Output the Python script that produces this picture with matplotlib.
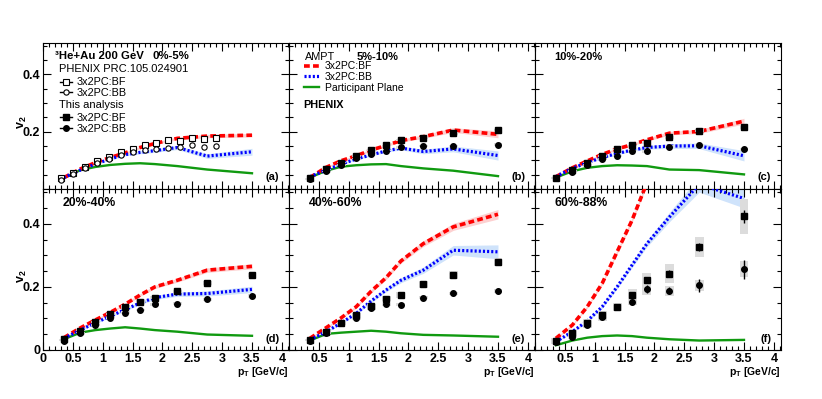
# v2 vs pT in 3He+Au, six centrality panels (AMPT vs PHENIX)
import numpy as np
import matplotlib
matplotlib.use("Agg")
import matplotlib.pyplot as plt
from matplotlib.lines import Line2D
from matplotlib.ticker import MultipleLocator, FuncFormatter

plt.rcParams['font.family'] = ['Liberation Sans', 'DejaVu Sans']
plt.rcParams['mathtext.fontset'] = 'custom'
plt.rcParams['mathtext.rm'] = 'Liberation Sans'
plt.rcParams['mathtext.bf'] = 'Liberation Sans:bold'
plt.rcParams['mathtext.it'] = 'Liberation Sans:italic'

# pT bins used for this analysis and the AMPT curves
pt = [0.35, 0.625, 0.875, 1.125, 1.375, 1.625, 1.875, 2.25, 2.75, 3.5]

# published PHENIX points (panel a only)
pt_phx = [0.3, 0.5, 0.7, 0.9, 1.1, 1.3, 1.5, 1.7, 1.9, 2.1, 2.3, 2.5, 2.7, 2.9]
phx_bf = [0.037, 0.057, 0.078, 0.099, 0.113, 0.129, 0.138, 0.155, 0.161, 0.171, 0.166, 0.179, 0.176, 0.179]
phx_bb = [0.033, 0.053, 0.074, 0.091, 0.106, 0.118, 0.129, 0.137, 0.140, 0.143, 0.146, 0.152, 0.146, 0.149]

centrality = ["0%-5%", "5%-10%", "10%-20%", "20%-40%", "40%-60%", "60%-88%"]
tags = ["(a)", "(b)", "(c)", "(d)", "(e)", "(f)"]

# AMPT 3x2PC:BF (red), 3x2PC:BB (blue), participant plane (green)
ampt_bf = [
    [0.040, 0.070, 0.092, 0.110, 0.126, 0.145, 0.159, 0.177, 0.185, 0.188],
    [0.040, 0.076, 0.099, 0.116, 0.136, 0.152, 0.169, 0.183, 0.206, 0.191],
    [0.043, 0.074, 0.098, 0.121, 0.140, 0.155, 0.172, 0.195, 0.201, 0.237],
    [0.039, 0.070, 0.095, 0.119, 0.145, 0.174, 0.200, 0.221, 0.253, 0.265],
    [0.037, 0.071, 0.102, 0.137, 0.186, 0.229, 0.282, 0.337, 0.390, 0.430],
    [0.037, 0.079, 0.137, 0.211, 0.311, 0.411, 0.530, 0.680, 0.850, 0.950],
]
ampt_bf_err = [
    [0.002, 0.002, 0.002, 0.003, 0.003, 0.004, 0.004, 0.005, 0.006, 0.006],
    [0.002, 0.002, 0.003, 0.003, 0.004, 0.004, 0.005, 0.006, 0.008, 0.012],
    [0.002, 0.002, 0.003, 0.003, 0.004, 0.004, 0.005, 0.006, 0.007, 0.010],
    [0.002, 0.002, 0.003, 0.003, 0.004, 0.004, 0.005, 0.006, 0.007, 0.008],
    [0.002, 0.003, 0.003, 0.004, 0.005, 0.006, 0.007, 0.009, 0.011, 0.015],
    [0.002, 0.003, 0.004, 0.005, 0.006, 0.007, 0.008, 0.009, 0.010, 0.010],
]
ampt_bb = [
    [0.040, 0.066, 0.087, 0.105, 0.120, 0.128, 0.134, 0.145, 0.115, 0.130],
    [0.043, 0.066, 0.087, 0.105, 0.119, 0.133, 0.143, 0.131, 0.140, 0.117],
    [0.043, 0.072, 0.092, 0.110, 0.124, 0.136, 0.145, 0.150, 0.151, 0.116],
    [0.037, 0.063, 0.086, 0.107, 0.128, 0.149, 0.166, 0.177, 0.179, 0.192],
    [0.032, 0.058, 0.086, 0.116, 0.155, 0.190, 0.221, 0.253, 0.316, 0.311],
    [0.026, 0.058, 0.092, 0.137, 0.200, 0.269, 0.337, 0.421, 0.525, 0.480],
]
ampt_bb_err = [
    [0.002, 0.002, 0.003, 0.003, 0.004, 0.005, 0.006, 0.007, 0.008, 0.012],
    [0.002, 0.002, 0.003, 0.003, 0.004, 0.005, 0.006, 0.008, 0.010, 0.016],
    [0.002, 0.002, 0.003, 0.003, 0.004, 0.005, 0.006, 0.008, 0.010, 0.018],
    [0.002, 0.002, 0.003, 0.003, 0.004, 0.005, 0.006, 0.007, 0.008, 0.010],
    [0.002, 0.003, 0.003, 0.004, 0.005, 0.006, 0.008, 0.010, 0.015, 0.022],
    [0.002, 0.003, 0.004, 0.005, 0.006, 0.008, 0.010, 0.015, 0.025, 0.030],
]
ampt_pp = [
    [0.038, 0.066, 0.077, 0.084, 0.088, 0.090, 0.087, 0.080, 0.068, 0.055],
    [0.040, 0.064, 0.078, 0.083, 0.086, 0.087, 0.080, 0.072, 0.064, 0.045],
    [0.040, 0.062, 0.074, 0.080, 0.083, 0.082, 0.080, 0.068, 0.066, 0.051],
    [0.034, 0.055, 0.063, 0.068, 0.072, 0.068, 0.063, 0.058, 0.049, 0.045],
    [0.030, 0.051, 0.055, 0.058, 0.061, 0.058, 0.053, 0.048, 0.046, 0.042],
    [0.015, 0.030, 0.039, 0.044, 0.046, 0.044, 0.039, 0.034, 0.030, 0.032],
]

# this analysis, panels b-f (index 0 = panel b)
data_bf = [
    [0.037, 0.069, 0.092, 0.115, 0.136, 0.152, 0.171, 0.178, 0.194, 0.206],
    [0.040, 0.065, 0.092, 0.115, 0.138, 0.152, 0.162, 0.180, 0.203, 0.215],
    [0.034, 0.061, 0.090, 0.114, 0.137, 0.153, 0.166, 0.186, 0.211, 0.237],
    [0.032, 0.058, 0.084, 0.111, 0.140, 0.163, 0.174, 0.208, 0.237, 0.278],
    [0.028, 0.053, 0.086, 0.111, 0.137, 0.174, 0.221, 0.242, 0.327, 0.423],
]
data_bb = [
    [0.035, 0.062, 0.084, 0.107, 0.122, 0.134, 0.145, 0.150, 0.150, 0.154],
    [0.037, 0.060, 0.084, 0.105, 0.115, 0.134, 0.131, 0.148, 0.153, 0.139],
    [0.030, 0.055, 0.079, 0.100, 0.118, 0.126, 0.145, 0.147, 0.160, 0.171],
    [0.030, 0.055, 0.084, 0.100, 0.132, 0.145, 0.144, 0.166, 0.179, 0.187],
    [0.026, 0.042, 0.079, 0.103, 0.135, 0.153, 0.193, 0.188, 0.205, 0.256],
]
stat_bf = [
    [0.001, 0.001, 0.001, 0.001, 0.002, 0.002, 0.002, 0.002, 0.003, 0.003],
    [0.001, 0.001, 0.001, 0.001, 0.002, 0.002, 0.002, 0.002, 0.003, 0.003],
    [0.001, 0.001, 0.001, 0.002, 0.002, 0.002, 0.002, 0.003, 0.003, 0.004],
    [0.002, 0.002, 0.002, 0.002, 0.003, 0.003, 0.003, 0.004, 0.005, 0.008],
    [0.003, 0.004, 0.005, 0.006, 0.007, 0.008, 0.010, 0.012, 0.013, 0.020],
]
stat_bb = [
    [0.001, 0.001, 0.001, 0.001, 0.002, 0.002, 0.002, 0.002, 0.003, 0.003],
    [0.001, 0.001, 0.001, 0.002, 0.002, 0.002, 0.002, 0.003, 0.003, 0.004],
    [0.001, 0.001, 0.002, 0.002, 0.002, 0.002, 0.003, 0.003, 0.003, 0.004],
    [0.002, 0.002, 0.002, 0.003, 0.003, 0.003, 0.004, 0.004, 0.007, 0.010],
    [0.003, 0.004, 0.005, 0.006, 0.007, 0.009, 0.012, 0.012, 0.020, 0.030],
]
sys_bf = [
    [0.002, 0.002, 0.002, 0.003, 0.003, 0.003, 0.004, 0.004, 0.005, 0.005],
    [0.002, 0.002, 0.002, 0.003, 0.003, 0.003, 0.004, 0.004, 0.005, 0.005],
    [0.002, 0.002, 0.003, 0.003, 0.004, 0.004, 0.005, 0.005, 0.006, 0.007],
    [0.003, 0.004, 0.005, 0.006, 0.007, 0.008, 0.009, 0.011, 0.012, 0.013],
    [0.010, 0.010, 0.012, 0.012, 0.012, 0.020, 0.022, 0.030, 0.032, 0.054],
]
sys_bb = [
    [0.002, 0.002, 0.002, 0.003, 0.003, 0.003, 0.004, 0.004, 0.005, 0.005],
    [0.002, 0.002, 0.002, 0.003, 0.003, 0.003, 0.004, 0.004, 0.005, 0.005],
    [0.002, 0.002, 0.003, 0.003, 0.004, 0.004, 0.005, 0.005, 0.006, 0.007],
    [0.003, 0.003, 0.004, 0.004, 0.005, 0.005, 0.006, 0.006, 0.006, 0.007],
    [0.008, 0.008, 0.010, 0.010, 0.010, 0.012, 0.018, 0.016, 0.017, 0.025],
]

RED = '#ff0000'
BLUE = '#0000ff'
GREEN = '#109a10'
RED_BAND = '#fdd0d0'
BLUE_BAND = '#cfe3fb'
BOX = '#dcdcdc'

W, H = 822, 399
fig = plt.figure(figsize=(W / 100, H / 100), dpi=100)

# pixel layout of the 2x3 pad grid
left, panel_w = 43, 246
row_top = [43, 189]
row_h = [146, 161]
label_size = [8, 8.8]

fmt = FuncFormatter(lambda v, p: f"{v:g}")
axes = []
for i in range(6):
    row, col = divmod(i, 3)
    x0 = left + col * panel_w
    ax = fig.add_axes([x0 / W, 1 - (row_top[row] + row_h[row]) / H,
                       panel_w / W, row_h[row] / H])
    axes.append(ax)

    ax.set_xlim(0, 4.12)
    ax.set_ylim(0, 0.51)
    ax.xaxis.set_major_locator(MultipleLocator(0.5))
    ax.xaxis.set_minor_locator(MultipleLocator(0.1))
    ax.yaxis.set_major_locator(MultipleLocator(0.2))
    ax.yaxis.set_minor_locator(MultipleLocator(0.05))
    ax.tick_params(which='both', direction='in', top=True, right=True,
                   width=0.8, labelsize=9, pad=2)
    ax.tick_params(which='major', length=5.5)
    ax.tick_params(which='minor', length=3)
    ax.xaxis.set_major_formatter(fmt)
    ax.yaxis.set_major_formatter(fmt)

    if row == 0:
        ax.tick_params(labelbottom=False)
    else:
        ax.set_xlabel(r"$\mathbf{p_T}$ [GeV/c]", loc='right', fontsize=7.5,
                      fontweight='bold', labelpad=0)
        if col > 0:
            ax.xaxis.set_major_formatter(FuncFormatter(lambda v, p: "" if v == 0 else f"{v:g}"))
    if col > 0:
        ax.tick_params(labelleft=False)
    else:
        ax.set_ylabel(r"$\mathbf{v_2}$", fontsize=9)
        ax.yaxis.set_label_coords(-0.057, 0.46)
        if row == 0:
            ax.yaxis.set_major_formatter(FuncFormatter(lambda v, p: "" if v == 0 else f"{v:g}"))
    for lab in ax.get_xticklabels() + ax.get_yticklabels():
        lab.set_fontweight('bold')

    # AMPT curves with their bands
    bf = np.array(ampt_bf[i])
    bb = np.array(ampt_bb[i])
    ax.fill_between(pt, bf - ampt_bf_err[i], bf + ampt_bf_err[i], color=RED_BAND, lw=0, zorder=1)
    ax.fill_between(pt, bb - ampt_bb_err[i], bb + ampt_bb_err[i], color=BLUE_BAND, lw=0, zorder=1)
    ax.plot(pt, ampt_pp[i], color=GREEN, lw=1.7, zorder=2)
    ax.plot(pt, bf, color=RED, lw=2.6, dashes=(1.6, 0.9), zorder=3)
    ax.plot(pt, bb, color=BLUE, lw=2.3, dashes=(0.65, 0.65), zorder=3)

    if i == 0:
        ax.plot(pt_phx, phx_bf, ls='none', marker='s', ms=4, mfc='white', mec='black', mew=0.8, zorder=5)
        ax.plot(pt_phx, phx_bb, ls='none', marker='o', ms=3.8, mfc='white', mec='black', mew=0.8, zorder=5)
    else:
        k = i - 1
        bfd = np.array(data_bf[k])
        bbd = np.array(data_bb[k])
        ax.bar(pt, 2 * np.array(sys_bf[k]), bottom=bfd - sys_bf[k], width=0.15, color=BOX, zorder=4)
        ax.bar(pt, 2 * np.array(sys_bb[k]), bottom=bbd - sys_bb[k], width=0.15, color=BOX, zorder=4)
        ax.errorbar(pt, bfd, yerr=stat_bf[k], fmt='s', ms=4.3, color='black', elinewidth=1, capsize=0, zorder=5)
        ax.errorbar(pt, bbd, yerr=stat_bb[k], fmt='o', ms=4, color='black', elinewidth=1, capsize=0, zorder=5)

    # centrality and panel tag
    ty = 0.08 if row == 0 else 0.07
    ax.text(0.96, ty, tags[i], transform=ax.transAxes, ha='right', va='center',
            fontsize=8, fontweight='bold')
    if i >= 2:
        ax.text(0.08, 1 - 14 / row_h[row], centrality[i], transform=ax.transAxes,
                ha='left', va='center', fontsize=label_size[row], fontweight='bold')

# panel (a) header and legend
ax = axes[0]
ax.text(0.049, 0.911, "³He+Au 200 GeV", transform=ax.transAxes, ha='left', va='center',
        fontsize=8.2, fontweight='bold')
ax.text(0.445, 0.911, centrality[0], transform=ax.transAxes, ha='left', va='center',
        fontsize=8.2, fontweight='bold')
ax.text(0.065, 0.82, "PHENIX PRC.105.024901", transform=ax.transAxes, ha='left', va='center',
        fontsize=8)
ax.text(0.065, 0.575, "This analysis", transform=ax.transAxes, ha='left', va='center',
        fontsize=8)
h_open = [Line2D([], [], color='black', lw=1, marker='s', ms=4, mfc='white', mew=0.8),
          Line2D([], [], color='black', lw=1, marker='o', ms=3.8, mfc='white', mew=0.8)]
h_full = [Line2D([], [], color='black', lw=1, marker='s', ms=4.3),
          Line2D([], [], color='black', lw=1, marker='o', ms=4)]
leg_opts = dict(loc='upper left', frameon=False, fontsize=7.8, handlelength=1.1,
                handletextpad=0.45, labelspacing=0.05, borderpad=0, borderaxespad=0)
leg1 = ax.legend(h_open, ["3x2PC:BF", "3x2PC:BB"], bbox_to_anchor=(0.07, 0.765), **leg_opts)
ax.add_artist(leg1)
ax.legend(h_full, ["3x2PC:BF", "3x2PC:BB"], bbox_to_anchor=(0.07, 0.52), **leg_opts)

# panel (b) AMPT legend
ax = axes[1]
ax.text(0.065, 0.906, "AMPT", transform=ax.transAxes, ha='left', va='center', fontsize=7.8)
ax.text(0.276, 0.906, centrality[1], transform=ax.transAxes, ha='left', va='center',
        fontsize=8, fontweight='bold')
ax.text(0.057, 0.575, "PHENIX", transform=ax.transAxes, ha='left', va='center',
        fontsize=7.8, fontweight='bold')
h_ampt = [Line2D([], [], color=RED, lw=2.6, dashes=(1.6, 0.9)),
          Line2D([], [], color=BLUE, lw=2.3, dashes=(0.65, 0.65)),
          Line2D([], [], color=GREEN, lw=1.7)]
ax.legend(h_ampt, ["3x2PC:BF", "3x2PC:BB", "Participant Plane"], loc='upper left',
          bbox_to_anchor=(0.06, 0.875), frameon=False, fontsize=7.5, handlelength=1.5,
          handletextpad=0.5, labelspacing=0.08, borderpad=0, borderaxespad=0)

fig.savefig("out.png", dpi=100)
